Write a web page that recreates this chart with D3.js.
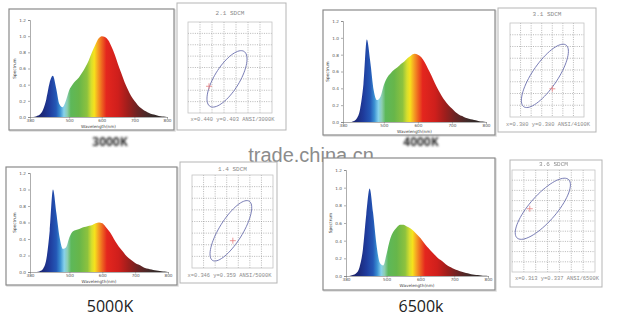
<!DOCTYPE html>
<html>
<head>
<meta charset="utf-8">
<script src="https://cdn.jsdelivr.net/npm/d3@7"></script>
<style>
body { margin: 0; background: #fff; }
svg { display: block; }
</style>
</head>
<body>
<div id="chart"></div>
<script>
// wavelength samples (nm) shared by all four spectra
var wavelengths = [380, 390, 400, 410, 420, 430, 440, 450, 460, 470, 480, 490, 500, 510, 520, 530, 540, 550, 560, 570,
  580, 590, 600, 610, 620, 630, 640, 650, 660, 670, 680, 690, 700, 710, 720, 730, 740, 750, 760, 770, 780, 790, 800]

// relative spectral power
var spd3000 = [0, 0, 0.01, 0.03, 0.09, 0.22, 0.42, 0.51, 0.36, 0.16, 0.12, 0.2, 0.33, 0.4, 0.45, 0.49, 0.55, 0.62, 0.7, 0.8,
  0.89, 0.97, 1.0, 0.99, 0.95, 0.87, 0.77, 0.65, 0.54, 0.43, 0.34, 0.26, 0.2, 0.15, 0.11, 0.08, 0.06, 0.04, 0.03, 0.02, 0.01, 0.005, 0]
var spd4000 = [0, 0, 0, 0.01, 0.04, 0.15, 0.45, 0.98, 0.72, 0.38, 0.26, 0.3, 0.44, 0.53, 0.58, 0.62, 0.65, 0.69, 0.72, 0.76,
  0.79, 0.81, 0.8, 0.77, 0.71, 0.63, 0.55, 0.46, 0.38, 0.31, 0.25, 0.2, 0.16, 0.12, 0.09, 0.07, 0.05, 0.04, 0.03, 0.02, 0.01, 0.005, 0]
var spd5000 = [0, 0, 0, 0.01, 0.04, 0.16, 0.5, 1.0, 0.72, 0.42, 0.28, 0.3, 0.42, 0.49, 0.51, 0.52, 0.54, 0.55, 0.56, 0.57,
  0.59, 0.6, 0.59, 0.55, 0.5, 0.44, 0.37, 0.31, 0.26, 0.21, 0.17, 0.14, 0.11, 0.09, 0.07, 0.05, 0.04, 0.03, 0.02, 0.015, 0.01, 0.005, 0]
var spd6500 = [0, 0, 0.01, 0.03, 0.1, 0.3, 0.7, 0.99, 0.72, 0.36, 0.15, 0.12, 0.25, 0.41, 0.5, 0.55, 0.58, 0.58, 0.56, 0.54,
  0.51, 0.47, 0.43, 0.38, 0.33, 0.29, 0.25, 0.21, 0.18, 0.15, 0.12, 0.1, 0.08, 0.065, 0.05, 0.04, 0.03, 0.02, 0.015, 0.01, 0.005, 0.002, 0]

var xTicks = [380, 500, 600, 700, 800]
var yTicks = [0, 0.2, 0.4, 0.6, 0.8, 1.0, 1.2]
var cctLabels = ['3000K', '4000K', '5000K', '6500k']

// SDCM (MacAdam ellipse) panels, in grid cell units
var sdcmTitles = ['2.1 SDCM', '3.1 SDCM', '1.4 SDCM', '3.6 SDCM']
var sdcmNotes = ['x=0.440 y=0.403 ANSI/3000K', 'x=0.380 y=0.380 ANSI/4100K', 'x=0.346 y=0.359 ANSI/5000K', 'x=0.313 y=0.337 ANSI/6500K']
var gridCols = [7, 7, 7, 7]
var gridRows = [8, 8, 8, 10]
var ellipseCx = [3.25, 3.3, 3.36, 2.6]
var ellipseCy = [3.0, 3.5, 3.2, 6.2]
var ellipseA = [2.8, 3.3, 3.0, 3.6]
var ellipseB = [1.05, 1.15, 1.0, 1.2]
var ellipseAngle = [60, 52, 58, 54]
var markX = [1.75, 4.0, 3.53, 1.5]
var markY = [2.35, 2.4, 2.35, 6.2]

var spectra = [spd3000, spd4000, spd5000, spd6500]

// colour of each wavelength for the fill
var spectrumStops = [[380, '#1b1d5a'], [420, '#1c2a7c'], [440, '#1f3b9c'], [460, '#2458b6'], [472, '#3a8fd2'],
  [484, '#86d2ec'], [494, '#8ccdb2'], [505, '#5db85a'], [530, '#67b64a'], [555, '#8dc23e'], [568, '#d6de2e'],
  [577, '#f6e21c'], [588, '#f5a323'], [600, '#ee6620'], [614, '#e4261e'], [650, '#cf1f1c'], [680, '#9e1e1c'],
  [710, '#6a2424'], [750, '#3c2b2a'], [800, '#242222']]

// page layout
var layout = [
  {box: [9, 9, 174, 130], plot: [30, 20, 167, 117], label: [110, 146], sbox: [177, 3, 286, 130], grid: [188, 22, 272, 113], title: 15, note: 121},
  {box: [323, 10, 495, 135], plot: [343, 21, 486, 122], label: [421, 146], sbox: [498, 8, 596, 132], grid: [510, 23, 584, 117], title: 16, note: 126},
  {box: [6, 167, 177, 285], plot: [30, 173, 168, 272], label: [110, 312], sbox: [180, 162, 277, 283], grid: [192, 175, 273, 268], title: 171, note: 277},
  {box: [323, 158, 495, 290], plot: [346, 170, 488, 276], label: [421, 312], sbox: [510, 160, 602, 287], grid: [512, 170, 595, 272], title: 166, note: 280}
]

var width = 621
var height = 323

var svg = d3.select('#chart').append('svg').attr('width', width).attr('height', height)

var defs = svg.append('defs')
var grad = defs.append('linearGradient').attr('id', 'spectrum').attr('x1', 0).attr('x2', 1).attr('y1', 0).attr('y2', 0)
grad.selectAll('stop').data(spectrumStops).join('stop')
  .attr('offset', d => (d[0] - 380) / 420)
  .attr('stop-color', d => d[1])
defs.append('filter').attr('id', 'blur').append('feGaussianBlur').attr('stdDeviation', 1.1)
defs.append('filter').attr('id', 'soft').append('feGaussianBlur').attr('stdDeviation', 0.6)

// watermark behind everything
svg.append('text').attr('x', 311).attr('y', 162).attr('text-anchor', 'middle')
  .attr('font-family', 'Liberation Sans, Arial, sans-serif').attr('font-size', 20)
  .attr('fill', '#8c8c8c').text('trade.china.cn')

layout.forEach(function (L, i) {
  var g = svg.append('g')

  // spectrum frame
  g.append('rect').attr('x', L.box[0] + 1).attr('y', L.box[1] + 1)
    .attr('width', L.box[2] - L.box[0]).attr('height', L.box[3] - L.box[1])
    .attr('fill', 'none').attr('stroke', '#ddd').attr('stroke-width', 1.5)
  g.append('rect').attr('x', L.box[0]).attr('y', L.box[1])
    .attr('width', L.box[2] - L.box[0]).attr('height', L.box[3] - L.box[1])
    .attr('fill', '#fff').attr('stroke', '#8a8a8a').attr('stroke-width', 1.2)

  var x = d3.scaleLinear().domain([380, 800]).range([L.plot[0], L.plot[2]])
  var y = d3.scaleLinear().domain([0, 1.2]).range([L.plot[3], L.plot[1]])

  var data = wavelengths.map((w, k) => ({w: w, v: spectra[i][k]}))
  var area = d3.area().x(d => x(d.w)).y0(y(0)).y1(d => y(d.v)).curve(d3.curveMonotoneX)
  g.append('path').datum(data).attr('d', area).attr('fill', 'url(#spectrum)')

  var ax = g.append('g').attr('transform', 'translate(0,' + y(0) + ')')
    .call(d3.axisBottom(x).tickValues(xTicks).tickSize(1.5).tickPadding(0.5))
  var ay = g.append('g').attr('transform', 'translate(' + x(380) + ',0)')
    .call(d3.axisLeft(y).tickValues(yTicks).tickFormat(d3.format('.1f')).tickSize(2).tickPadding(2))
  ;[ax, ay].forEach(function (a) {
    a.selectAll('text').attr('font-size', 4.2).attr('fill', '#555').attr('font-family', 'DejaVu Sans, sans-serif')
    a.selectAll('line, path').attr('stroke', '#777').attr('stroke-width', 0.6)
  })
  g.append('text').attr('x', (L.plot[0] + L.plot[2]) / 2).attr('y', L.plot[3] + 10.5).attr('text-anchor', 'middle')
    .attr('font-size', 4.2).attr('fill', '#444').attr('font-family', 'DejaVu Sans, sans-serif').text('Wavelength(nm)')
  g.append('text').attr('transform', 'translate(' + (L.plot[0] - 14) + ',' + ((L.plot[1] + L.plot[3]) / 2) + ') rotate(-90)')
    .attr('text-anchor', 'middle').attr('font-size', 4.2).attr('fill', '#444')
    .attr('font-family', 'DejaVu Sans, sans-serif').text('Spectrum')

  // colour temperature caption
  var cap = g.append('text').attr('x', L.label[0]).attr('y', L.label[1]).attr('text-anchor', 'middle')
    .attr('font-family', 'Open Sans, sans-serif').text(cctLabels[i])
  if (i < 2) {
    cap.attr('font-size', 12).attr('font-weight', 'bold').attr('fill', '#333').attr('filter', 'url(#blur)')
  } else {
    cap.attr('font-size', 16).attr('fill', '#222')
  }

  // SDCM panel
  var s = svg.append('g')
  s.append('rect').attr('x', L.sbox[0]).attr('y', L.sbox[1])
    .attr('width', L.sbox[2] - L.sbox[0]).attr('height', L.sbox[3] - L.sbox[1])
    .attr('fill', '#fff').attr('stroke', '#b5b5b5').attr('stroke-width', 1)

  var gx = d3.scaleLinear().domain([0, gridCols[i]]).range([L.grid[0], L.grid[2]])
  var gy = d3.scaleLinear().domain([0, gridRows[i]]).range([L.grid[3], L.grid[1]])

  s.append('g').selectAll('line').data(d3.range(1, gridCols[i])).join('line')
    .attr('x1', d => gx(d)).attr('x2', d => gx(d)).attr('y1', L.grid[1]).attr('y2', L.grid[3])
    .attr('stroke', '#9a9a9a').attr('stroke-width', 0.7).attr('stroke-dasharray', '1,1.3')
  s.append('g').selectAll('line').data(d3.range(1, gridRows[i])).join('line')
    .attr('y1', d => gy(d)).attr('y2', d => gy(d)).attr('x1', L.grid[0]).attr('x2', L.grid[2])
    .attr('stroke', '#9a9a9a').attr('stroke-width', 0.7).attr('stroke-dasharray', '1,1.3')
  s.append('rect').attr('x', L.grid[0]).attr('y', L.grid[1])
    .attr('width', L.grid[2] - L.grid[0]).attr('height', L.grid[3] - L.grid[1])
    .attr('fill', 'none').attr('stroke', '#c4c4c4').attr('stroke-width', 0.8)

  var th = ellipseAngle[i] * Math.PI / 180
  var pts = d3.range(0, 73).map(function (k) {
    var t = k / 72 * 2 * Math.PI
    var ex = ellipseA[i] * Math.cos(t), ey = ellipseB[i] * Math.sin(t)
    return [gx(ellipseCx[i] + ex * Math.cos(th) - ey * Math.sin(th)), gy(ellipseCy[i] + ex * Math.sin(th) + ey * Math.cos(th))]
  })
  s.append('path').attr('d', d3.line()(pts)).attr('fill', 'none').attr('stroke', '#6a6ead').attr('stroke-width', 0.9)

  var mx = gx(markX[i]), my = gy(markY[i])
  s.append('path').attr('d', 'M' + (mx - 3) + ',' + my + 'H' + (mx + 3) + 'M' + mx + ',' + (my - 3) + 'V' + (my + 3))
    .attr('stroke', '#e78080').attr('stroke-width', 0.8)

  var tt = s.append('text').attr('x', (L.grid[0] + L.grid[2]) / 2).attr('y', L.title).attr('text-anchor', 'middle')
    .attr('font-family', 'Liberation Mono, monospace').attr('font-size', 6).attr('fill', '#8a8a8a').text(sdcmTitles[i])
  if (i == 3) tt.attr('filter', 'url(#soft)')
  s.append('text').attr('x', (L.sbox[0] + L.sbox[2]) / 2 + 1).attr('y', L.note).attr('text-anchor', 'middle')
    .attr('font-family', 'Liberation Mono, monospace').attr('font-size', 5.4).attr('fill', '#8a8a8a').text(sdcmNotes[i])
})
</script>
</body>
</html>
